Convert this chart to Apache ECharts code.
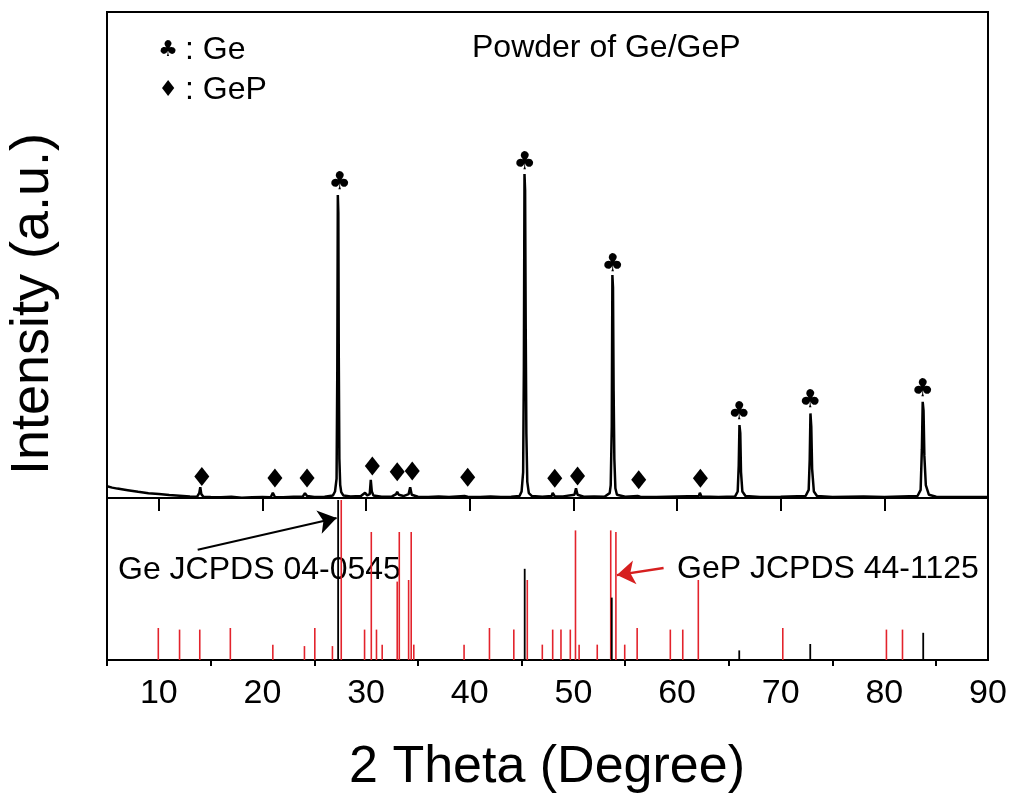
<!DOCTYPE html>
<html>
<head>
<meta charset="utf-8">
<script src="https://cdn.jsdelivr.net/npm/echarts@6/dist/echarts.min.js"></script>
<style>
  html, body { margin: 0; padding: 0; background: #fff; }
  #chart { width: 1012px; height: 800px; }
</style>
</head>
<body>
<div id="chart"></div>
<script>
// measured XRD pattern of the Ge/GeP powder: [2theta, intensity]
const pattern = [
  [5, 3.6], [5.5, 3.2], [6, 2.9], [7, 2.4], [8, 1.9], [9, 1.5], [10, 1.2], [11, 0.9], [12, 0.7], [13, 0.5],
  [13.7, 0.4], [13.9, 1.5], [14.0, 3.3], [14.1, 1.2], [14.3, 0.4], [15, 0.3], [16, 0.2], [17, 0.4], [18, 0.1],
  [19, 0.2], [20, 0.3], [20.8, 0.2], [21.0, 1.6], [21.2, 0.3], [22, 0.2], [23, 0.4], [23.9, 0.5], [24.1, 1.5],
  [24.3, 0.6], [25, 0.3], [26, 0.4], [26.8, 0.8], [27.0, 2], [27.15, 6], [27.22, 40], [27.27, 93.5], [27.32, 88],
  [27.36, 45], [27.42, 12], [27.5, 4], [27.6, 1.8], [27.8, 0.8], [28.5, 0.5], [29.5, 0.6], [29.9, 1.6], [30.1, 0.8],
  [30.35, 1.2], [30.45, 5.6], [30.55, 2], [30.7, 0.8], [31.5, 0.4], [32.5, 0.5], [32.9, 1.2], [33.0, 1.9], [33.15, 1],
  [33.6, 0.6], [34.1, 1.2], [34.25, 3.3], [34.4, 1], [35, 0.4], [36, 0.3], [37, 0.5], [38, 0.3], [39.5, 0.6],
  [39.6, 1.2], [39.8, 0.4], [41, 0.3], [42, 0.5], [43, 0.3], [44, 0.4], [44.8, 0.6], [45.0, 2], [45.15, 8],
  [45.22, 40], [45.28, 100], [45.34, 95], [45.4, 52], [45.46, 20], [45.55, 5], [45.7, 1.5], [46, 0.6], [47, 0.4],
  [47.9, 0.6], [48.0, 1.6], [48.2, 0.5], [49, 0.5], [50.1, 1], [50.25, 3], [50.4, 1], [51, 0.4], [52, 0.5],
  [53, 0.4], [53.5, 1.5], [53.6, 4], [53.7, 22], [53.76, 68.8], [53.82, 65], [53.88, 33], [53.95, 12], [54.05, 3],
  [54.2, 1], [55, 0.4], [56.2, 0.6], [56.3, 1.2], [56.45, 0.4], [58, 0.3], [60, 0.5], [62.1, 0.6], [62.2, 1.6],
  [62.35, 0.5], [64, 0.3], [65.6, 0.5], [65.85, 2], [65.95, 10], [66.02, 22.5], [66.1, 20], [66.17, 8], [66.3, 2],
  [66.6, 0.6], [68, 0.3], [70, 0.4], [72.4, 0.6], [72.7, 2.5], [72.8, 12], [72.87, 26.1], [72.95, 22], [73.03, 9],
  [73.2, 2], [73.5, 0.6], [75, 0.3], [78, 0.5], [80, 0.3], [83.2, 0.6], [83.5, 2.5], [83.62, 15], [83.7, 29.7],
  [83.78, 27], [83.86, 13], [84.0, 4], [84.3, 1], [85, 0.4], [87, 0.3], [90, 0.3]
];

// peak markers
const geMarks = [[27.45, 97.4], [45.3, 103.5], [53.8, 72.2], [66.0, 26.3], [72.85, 30], [83.7, 33.5]];
const gepMarks = [[14.15, 6.6], [21.2, 6.2], [24.3, 6.2], [30.6, 9.9], [33.0, 8.1], [34.45, 8.3],
  [39.8, 6.4], [48.2, 6.1], [50.4, 6.8], [56.3, 5.6], [62.25, 6.1]];

// reference cards (relative intensity)
const gePos = [27.3, 45.3, 53.7, 66.0, 72.85, 83.75];
const geInt = [100, 57, 39, 6, 10, 17];
const gepPos = [9.95, 12.0, 13.95, 16.9, 21.0, 24.05, 25.05, 26.75, 27.6, 29.85, 30.5, 31.0, 31.55, 33.0, 33.2,
  34.1, 34.35, 34.6, 39.45, 41.9, 44.25, 45.55, 47.0, 48.0, 48.8, 49.7, 50.2, 50.55, 52.3, 53.6, 54.1, 54.95,
  56.15, 59.35, 60.55, 62.05, 70.2, 80.2, 81.75];
const gepInt = [20, 19, 19, 20, 9.6, 8.7, 20, 8.7, 100, 19, 80, 19, 9.6, 49, 80,
  50, 80, 9.6, 9.6, 20, 19, 50, 9.6, 19, 19, 19, 81, 9.6, 9.6, 81, 80, 9.6,
  20, 19, 19, 50, 20, 19, 19];

// arrows pointing from the card labels to the sticks (pattern axis units)
const geArrow = [[13.75, -16], [27.15, -6.2]];
const gepArrow = [[58.7, -21.6], [54.2, -23.8]];

const majorTicks = [10, 20, 30, 40, 50, 60, 70, 80, 90];
const minorTicks = [5, 15, 25, 35, 45, 55, 65, 75, 85];

const FONT = "'Liberation Sans', Arial, sans-serif";
const RED = "#e3232c";

function stickSeries(pos, ints, color, width) {
  return {
    type: "custom",
    yAxisIndex: 1,
    data: pos.map((p, i) => [p, ints[i]]),
    renderItem: (params, api) => {
      const p0 = api.coord([api.value(0), 0]);
      const p1 = api.coord([api.value(0), api.value(1)]);
      return {
        type: "line",
        shape: { x1: p0[0], y1: p0[1], x2: p1[0], y2: p1[1] },
        style: { stroke: color, lineWidth: width },
      };
    },
    z: 3,
  };
}

const chart = echarts.init(document.getElementById("chart"));
chart.setOption({
  animation: false,
  grid: {
    left: 107, right: 24, top: 12, bottom: 140,
    show: true, borderColor: "#000", borderWidth: 2,
  },
  xAxis: [
    {
      type: "value", min: 5, max: 90, position: "bottom",
      axisLine: { lineStyle: { color: "#000", width: 2 } },
      axisTick: { customValues: majorTicks, length: 13, lineStyle: { color: "#000", width: 2 } },
      axisLabel: { customValues: majorTicks, color: "#000", fontSize: 34, fontFamily: FONT, margin: 17 },
      splitLine: { show: false },
    },
    {
      type: "value", min: 5, max: 90, position: "bottom", offset: 0,
      axisLine: { show: false },
      axisTick: { customValues: minorTicks, length: 6, lineStyle: { color: "#000", width: 2 } },
      axisLabel: { show: false },
      splitLine: { show: false },
    },
  ],
  yAxis: [
    { type: "value", min: -50, max: 150, show: false, splitLine: { show: false } },
    { type: "value", min: 0, max: 405, show: false, splitLine: { show: false } },
  ],
  series: [
    {
      type: "line",
      data: pattern,
      showSymbol: false,
      lineStyle: { color: "#000", width: 2.5 },
      itemStyle: { color: "#000" },
      z: 4,
      markLine: {
        silent: true,
        symbol: ["none", "arrow"],
        symbolSize: 18,
        label: { show: false },
        data: [
          [
            { coord: geArrow[0], lineStyle: { color: "#000", width: 2, type: "solid" }, itemStyle: { color: "#000" } },
            { coord: geArrow[1], itemStyle: { color: "#000" } },
          ],
          [
            { coord: gepArrow[0], lineStyle: { color: "#d61f1f", width: 2.5, type: "solid" }, itemStyle: { color: "#d61f1f" } },
            { coord: gepArrow[1], itemStyle: { color: "#d61f1f" } },
          ],
        ],
      },
    },
    stickSeries(gepPos, gepInt, RED, 1.6),
    stickSeries(gePos, geInt, "#000", 1.8),
    {
      type: "scatter",
      data: gepMarks,
      symbol: "diamond",
      symbolSize: [15, 19],
      itemStyle: { color: "#000", opacity: 1 },
      z: 5,
    },
    {
      type: "scatter",
      data: geMarks,
      symbolSize: 0,
      label: {
        show: true, position: "inside", formatter: () => "\u2663",
        fontFamily: "'DejaVu Sans'", fontWeight: "bold", fontSize: 25, color: "#000", opacity: 1,
      },
      z: 5,
    },
  ],
  graphic: [
    {
      type: "text", x: 33, y: 304, rotation: Math.PI / 2,
      style: { text: "Intensity (a.u.)", font: "54px " + FONT, fill: "#000", textAlign: "center", textVerticalAlign: "middle" },
    },
    {
      type: "text", x: 547, y: 768,
      style: { text: "2 Theta (Degree)", font: "52px " + FONT, fill: "#000", textAlign: "center", textVerticalAlign: "middle" },
    },
    {
      type: "text", x: 472, y: 48,
      style: { text: "Powder of Ge/GeP", font: "32px " + FONT, fill: "#000", textAlign: "left", textVerticalAlign: "middle" },
    },
    {
      type: "text", x: 168, y: 50,
      style: { text: "\u2663", font: "bold 22px 'DejaVu Sans'", fill: "#000", textAlign: "center", textVerticalAlign: "middle" },
    },
    {
      type: "text", x: 185, y: 50,
      style: { text: ": Ge", font: "32px " + FONT, fill: "#000", textAlign: "left", textVerticalAlign: "middle" },
    },
    {
      type: "text", x: 168, y: 90,
      style: { text: "\u2666", font: "22px 'DejaVu Sans'", fill: "#000", textAlign: "center", textVerticalAlign: "middle" },
    },
    {
      type: "text", x: 185, y: 90,
      style: { text: ": GeP", font: "32px " + FONT, fill: "#000", textAlign: "left", textVerticalAlign: "middle" },
    },
    {
      type: "text", x: 118, y: 570,
      style: { text: "Ge JCPDS 04-0545", font: "32px " + FONT, fill: "#000", textAlign: "left", textVerticalAlign: "middle" },
    },
    {
      type: "text", x: 677, y: 569,
      style: { text: "GeP JCPDS 44-1125", font: "32px " + FONT, fill: "#000", textAlign: "left", textVerticalAlign: "middle" },
    },
  ],
});
</script>
</body>
</html>
